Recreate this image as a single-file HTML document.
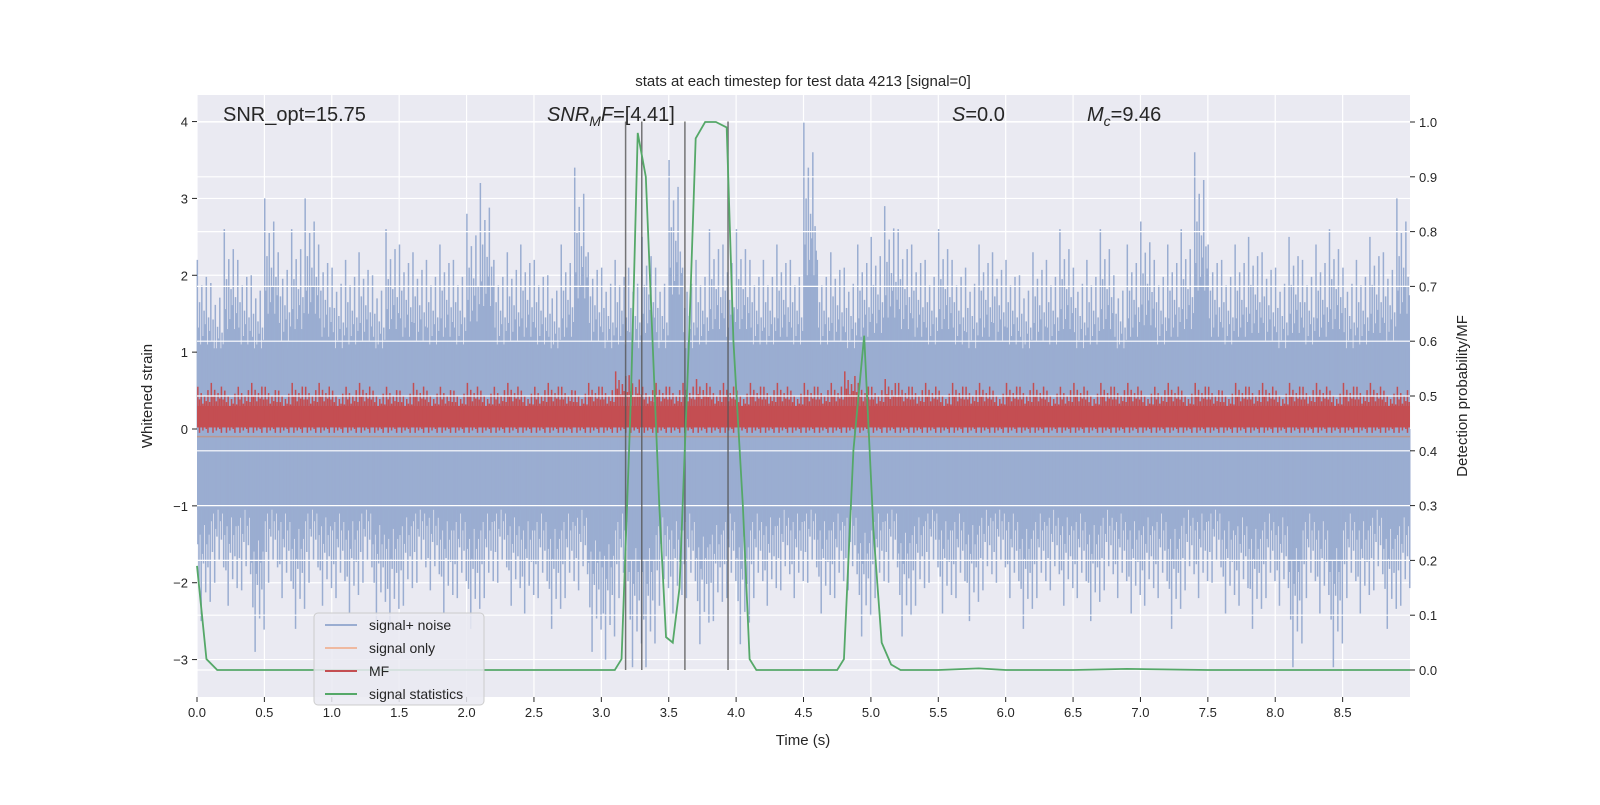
<!DOCTYPE html>
<html><head><meta charset="utf-8"><style>
html,body{margin:0;padding:0;background:#fff;}
svg text{font-family:"Liberation Sans","DejaVu Sans",sans-serif;fill:#262626;}
</style></head><body>
<svg id="chart" width="1600" height="800" xmlns="http://www.w3.org/2000/svg"></svg>
<script>
const xTicks=[0,0.5,1,1.5,2,2.5,3,3.5,4,4.5,5,5.5,6,6.5,7,7.5,8,8.5];
const yTicksL=[-3,-2,-1,0,1,2,3,4];
const yTicksR=[0,0.1,0.2,0.3,0.4,0.5,0.6,0.7,0.8,0.9,1.0];
const noiseMax=[2.2,1.9,2.6,2.2,2.0,3.0,2.3,2.6,3.0,2.4,2.1,2.2,2.3,2.0,2.6,2.4,2.3,2.2,2.4,2.2,2.8,3.2,2.2,2.3,2.4,2.2,2.0,2.4,3.4,2.3,2.1,2.2,2.1,2.5,2.1,3.5,2.1,2.2,2.6,2.4,2.6,2.2,2.2,2.4,2.2,4.0,2.2,2.3,2.1,2.4,2.5,2.9,2.6,2.4,2.2,2.6,2.2,2.1,2.4,2.3,2.2,2.0,2.3,2.2,2.6,2.1,2.2,2.6,2.0,2.4,2.7,2.2,2.4,2.6,3.6,2.4,2.2,2.4,2.5,2.3,2.1,2.5,2.2,2.4,2.6,2.1,2.2,2.5,2.3,3.0];
const noiseMin=[-2.5,-2.0,-2.3,-2.1,-2.9,-2.0,-2.2,-2.6,-2.0,-2.3,-2.2,-2.4,-2.0,-2.5,-2.6,-2.3,-2.0,-2.1,-2.4,-2.2,-2.6,-2.2,-2.0,-2.3,-2.4,-2.2,-2.6,-2.2,-2.1,-2.9,-3.0,-2.2,-3.1,-3.1,-2.3,-2.4,-2.2,-2.8,-2.5,-2.2,-2.8,-2.2,-2.3,-2.1,-2.2,-2.0,-2.4,-2.2,-2.1,-2.7,-2.2,-2.0,-2.7,-2.3,-2.0,-2.4,-2.2,-2.5,-2.1,-2.0,-2.2,-2.6,-2.2,-2.1,-2.3,-2.2,-2.5,-2.1,-2.2,-2.4,-2.3,-2.2,-2.6,-2.1,-2.2,-2.0,-2.4,-2.3,-2.6,-2.2,-2.3,-3.1,-2.2,-2.4,-3.1,-2.2,-2.4,-2.1,-2.6,-2.3];
const mfMax=[0.55,0.6,0.5,0.55,0.6,0.55,0.5,0.6,0.55,0.6,0.5,0.55,0.6,0.5,0.55,0.5,0.6,0.5,0.55,0.5,0.6,0.5,0.55,0.6,0.5,0.55,0.6,0.55,0.5,0.6,0.55,0.75,0.7,0.55,0.6,0.55,0.6,0.65,0.55,0.6,0.5,0.6,0.55,0.6,0.5,0.6,0.55,0.6,0.75,0.6,0.55,0.65,0.6,0.55,0.6,0.5,0.6,0.55,0.6,0.5,0.6,0.55,0.6,0.5,0.55,0.6,0.5,0.6,0.55,0.6,0.5,0.55,0.6,0.5,0.6,0.55,0.5,0.6,0.55,0.6,0.5,0.6,0.55,0.6,0.5,0.6,0.55,0.6,0.5,0.55];
const sigT=[0,0.07,0.15,0.3,1,2,3.0,3.1,3.15,3.22,3.27,3.33,3.43,3.48,3.53,3.58,3.65,3.7,3.77,3.85,3.93,3.98,4.05,4.1,4.15,4.5,4.75,4.8,4.87,4.95,5.02,5.08,5.15,5.22,5.5,5.8,6.0,6.5,6.9,7.5,9.0];
const sigV=[0.19,0.02,0.0,0.0,0.0,0.0,0.0,0.0,0.02,0.5,0.98,0.9,0.3,0.06,0.05,0.15,0.6,0.97,1.0,1.0,0.99,0.6,0.3,0.02,0.0,0.0,0.0,0.02,0.4,0.61,0.25,0.05,0.01,0.0,0.0,0.003,0.0,0.0,0.002,0.0,0.0];
const vlines=[3.18,3.30,3.62,3.94];

const NS="http://www.w3.org/2000/svg";
const svg=document.getElementById('chart');
const L=197,R=1410,T=95,B=697;
const X=t=>L+t*134.78;
const YL=v=>429-v*76.86;
const YR=v=>670-v*548;
function el(tag,attrs,parent){const e=document.createElementNS(NS,tag);for(const k in attrs)e.setAttribute(k,attrs[k]);(parent||svg).appendChild(e);return e;}
function txt(x,y,s,attrs){const e=el('text',Object.assign({x:x,y:y},attrs||{}));e.textContent=s;return e;}

const bg=el('rect',{x:L,y:T,width:R-L,height:B-T,fill:'#eaeaf2'});


const gl=el('g',{stroke:'#fff','stroke-width':1.2});


xTicks.forEach(t=>el('line',{x1:X(t),x2:X(t),y1:T,y2:B},gl));
yTicksL.forEach(v=>el('line',{x1:L,x2:R,y1:YL(v),y2:YL(v)},gl));

// noise
const ng=el('g',{stroke:'#9aadd1','stroke-width':1.5});


el('rect',{x:X(0),y:YL(1.05),width:X(9)-X(0),height:YL(-1.05)-YL(1.05),fill:'#9aadd1',stroke:'none'},ng);
const fu=[1,0.6,0.75,0.5,0.85,0.55,0.7,0.62,0.9,0.5,0.66,0.58];
const fd=[0.6,0.8,0.55,1,0.65,0.7,0.5,0.85,0.6,0.72,0.55,0.9];
noiseMax.forEach((mx,i)=>{
  const mn=noiseMin[i];const x0=X(i*0.1);const w=X(0.1)-X(0);
  fu.forEach((f,k)=>{const xx=x0+(k+0.3)/12*w;el('line',{x1:xx,x2:xx,y1:YL(0),y2:YL(mx*f)},ng);});
  fd.forEach((f,k)=>{const xx=x0+(k+0.75)/12*w;el('line',{x1:xx,x2:xx,y1:YL(0),y2:YL(mn*f)},ng);});
});
// signal only
const so=el('line',{x1:X(0),x2:X(9),y1:YL(-0.1),y2:YL(-0.1),stroke:'#dd8452','stroke-opacity':0.5,'stroke-width':1.5});


// MF
const mg=el('g',{stroke:'#c44e52','stroke-width':1.5});


el('rect',{x:X(0),y:YL(0.3),width:X(9)-X(0),height:YL(0.02)-YL(0.3),fill:'#c44e52',stroke:'none'},mg);
const mfu=[1,0.7,0.85,0.6,0.78,0.66,0.92,0.64];
const mfd=[0.05,-0.05,0.1,-0.02,0.08,0.0,-0.05,0.06];
mfMax.forEach((m,i)=>{const x0=X(i*0.1),w=X(0.1)-X(0);
  mfu.forEach((f,k)=>{const xx=x0+(k+0.5)/8*w;el('line',{x1:xx,x2:xx,y1:YL(mfd[k]),y2:YL(m*f)},mg);});
});
// right grid
const gr=el('g',{stroke:'#fff','stroke-width':1.2});


yTicksR.forEach(v=>el('line',{x1:L,x2:R,y1:YR(v),y2:YR(v)},gr));
// vlines
const vg=el('g',{stroke:'#555','stroke-opacity':0.8,'stroke-width':1.5});


vlines.forEach(t=>el('line',{x1:X(t),x2:X(t),y1:YL(4),y2:YR(0)},vg));
// green
const gp=el('polyline',{points:sigT.map((t,i)=>X(t)+','+YR(sigV[i])).join(' '),fill:'none',stroke:'#55a868','stroke-width':1.8});



// ticks
const tk=el('g',{});


xTicks.forEach(t=>{el('line',{x1:X(t),x2:X(t),y1:B,y2:B+5,stroke:'#262626'},tk);txt(X(t),B+20,t.toFixed(1),{'font-size':13,'text-anchor':'middle'});});
yTicksL.forEach(v=>{el('line',{x1:L-5,x2:L,y1:YL(v),y2:YL(v),stroke:'#262626'},tk);txt(L-9,YL(v)+5,(v<0?'\u2212'+(-v):''+v),{'font-size':13,'text-anchor':'end'});});
yTicksR.forEach(v=>{el('line',{x1:R,x2:R+5,y1:YR(v),y2:YR(v),stroke:'#262626'},tk);txt(R+9,YR(v)+5,v.toFixed(1),{'font-size':13});});

txt(803,745,'Time (s)',{'font-size':15,'text-anchor':'middle',});
txt(0,0,'Whitened strain',{'font-size':15,'text-anchor':'middle',transform:'translate(152,396) rotate(-90)',});
txt(0,0,'Detection probability/MF',{'font-size':15,'text-anchor':'middle',transform:'translate(1467,396) rotate(-90)',});
txt(803,86,'stats at each timestep for test data 4213 [signal=0]',{'font-size':15,'text-anchor':'middle',});
txt(223,121,'SNR_opt=15.75',{'font-size':20,});
const a2=txt(547,121,'',{'font-size':20,});
a2.innerHTML='<tspan font-style="italic">SNR</tspan><tspan font-style="italic" font-size="14" dy="5">M</tspan><tspan font-style="italic" dy="-5">F</tspan>=[4.41]';
const a3=txt(952,121,'',{'font-size':20,});
a3.innerHTML='<tspan font-style="italic">S</tspan>=0.0';
const a4=txt(1087,121,'',{'font-size':20,});
a4.innerHTML='<tspan font-style="italic">M</tspan><tspan font-style="italic" font-size="14" dy="5">c</tspan><tspan dy="-5">=9.46</tspan>';

// legend
const lg=el('g',{});


el('rect',{x:314,y:613,width:170,height:92,rx:4,fill:'#eaeaf2','fill-opacity':0.85,stroke:'#ccc'},lg);
[['signal+ noise','#9aadd1'],['signal only','#efb9a0'],['MF','#c44e52'],['signal statistics','#55a868']].forEach((e,i)=>{
  const y=625+i*23;
  const ln=el('line',{x1:325,x2:357,y1:y,y2:y,stroke:e[1],'stroke-width':2},lg);
  
  
  txt(369,y+5,e[0],{'font-size':14,});
});
</script>
</body></html>
